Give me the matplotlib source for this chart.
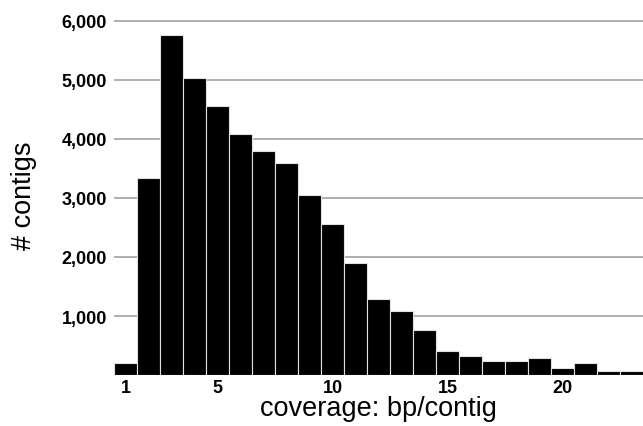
import matplotlib
matplotlib.use("Agg")
import matplotlib.pyplot as plt
from matplotlib.ticker import FuncFormatter

coverage = list(range(1, 24))
contigs = [208, 3334, 5768, 5028, 4559, 4090, 3802, 3598, 3046, 2559, 1893,
           1288, 1090, 768, 401, 328, 232, 232, 294, 119, 203, 68, 72]
x_ticks = [1, 5, 10, 15, 20]
y_ticks = [1000, 2000, 3000, 4000, 5000, 6000]

plt.rcParams['font.family'] = ['Liberation Sans', 'DejaVu Sans']

fig = plt.figure(figsize=(6.43, 4.27), dpi=100)
ax = fig.add_axes([0.1773, 0.1194, 0.8227, 0.843])

ax.bar(coverage, contigs, width=1.0, color='black', edgecolor='#e0e0e0',
       linewidth=0.8, zorder=3)

ax.set_xlim(0.5, 23.5)
ax.set_ylim(0, 6100)
ax.set_xticks(x_ticks)
ax.set_yticks(y_ticks)
ax.yaxis.set_major_formatter(FuncFormatter(lambda v, p: f"{int(v):,}"))
ax.grid(axis='y', color='#a8a8a8', linewidth=1.3, zorder=0)
ax.grid(axis='x', visible=False)
for s in ax.spines.values():
    s.set_visible(False)
ax.tick_params(axis='both', length=0, labelsize=13)
ax.tick_params(axis='y', pad=5)
ax.tick_params(axis='x', pad=3)
for lab in ax.get_xticklabels() + ax.get_yticklabels():
    lab.set_fontweight('bold')

ax.set_xlabel('coverage: bp/contig', fontsize=19.5, labelpad=-1)
ax.set_ylabel('# contigs', fontsize=19.5, labelpad=18)

fig.savefig('out.png', dpi=100)
